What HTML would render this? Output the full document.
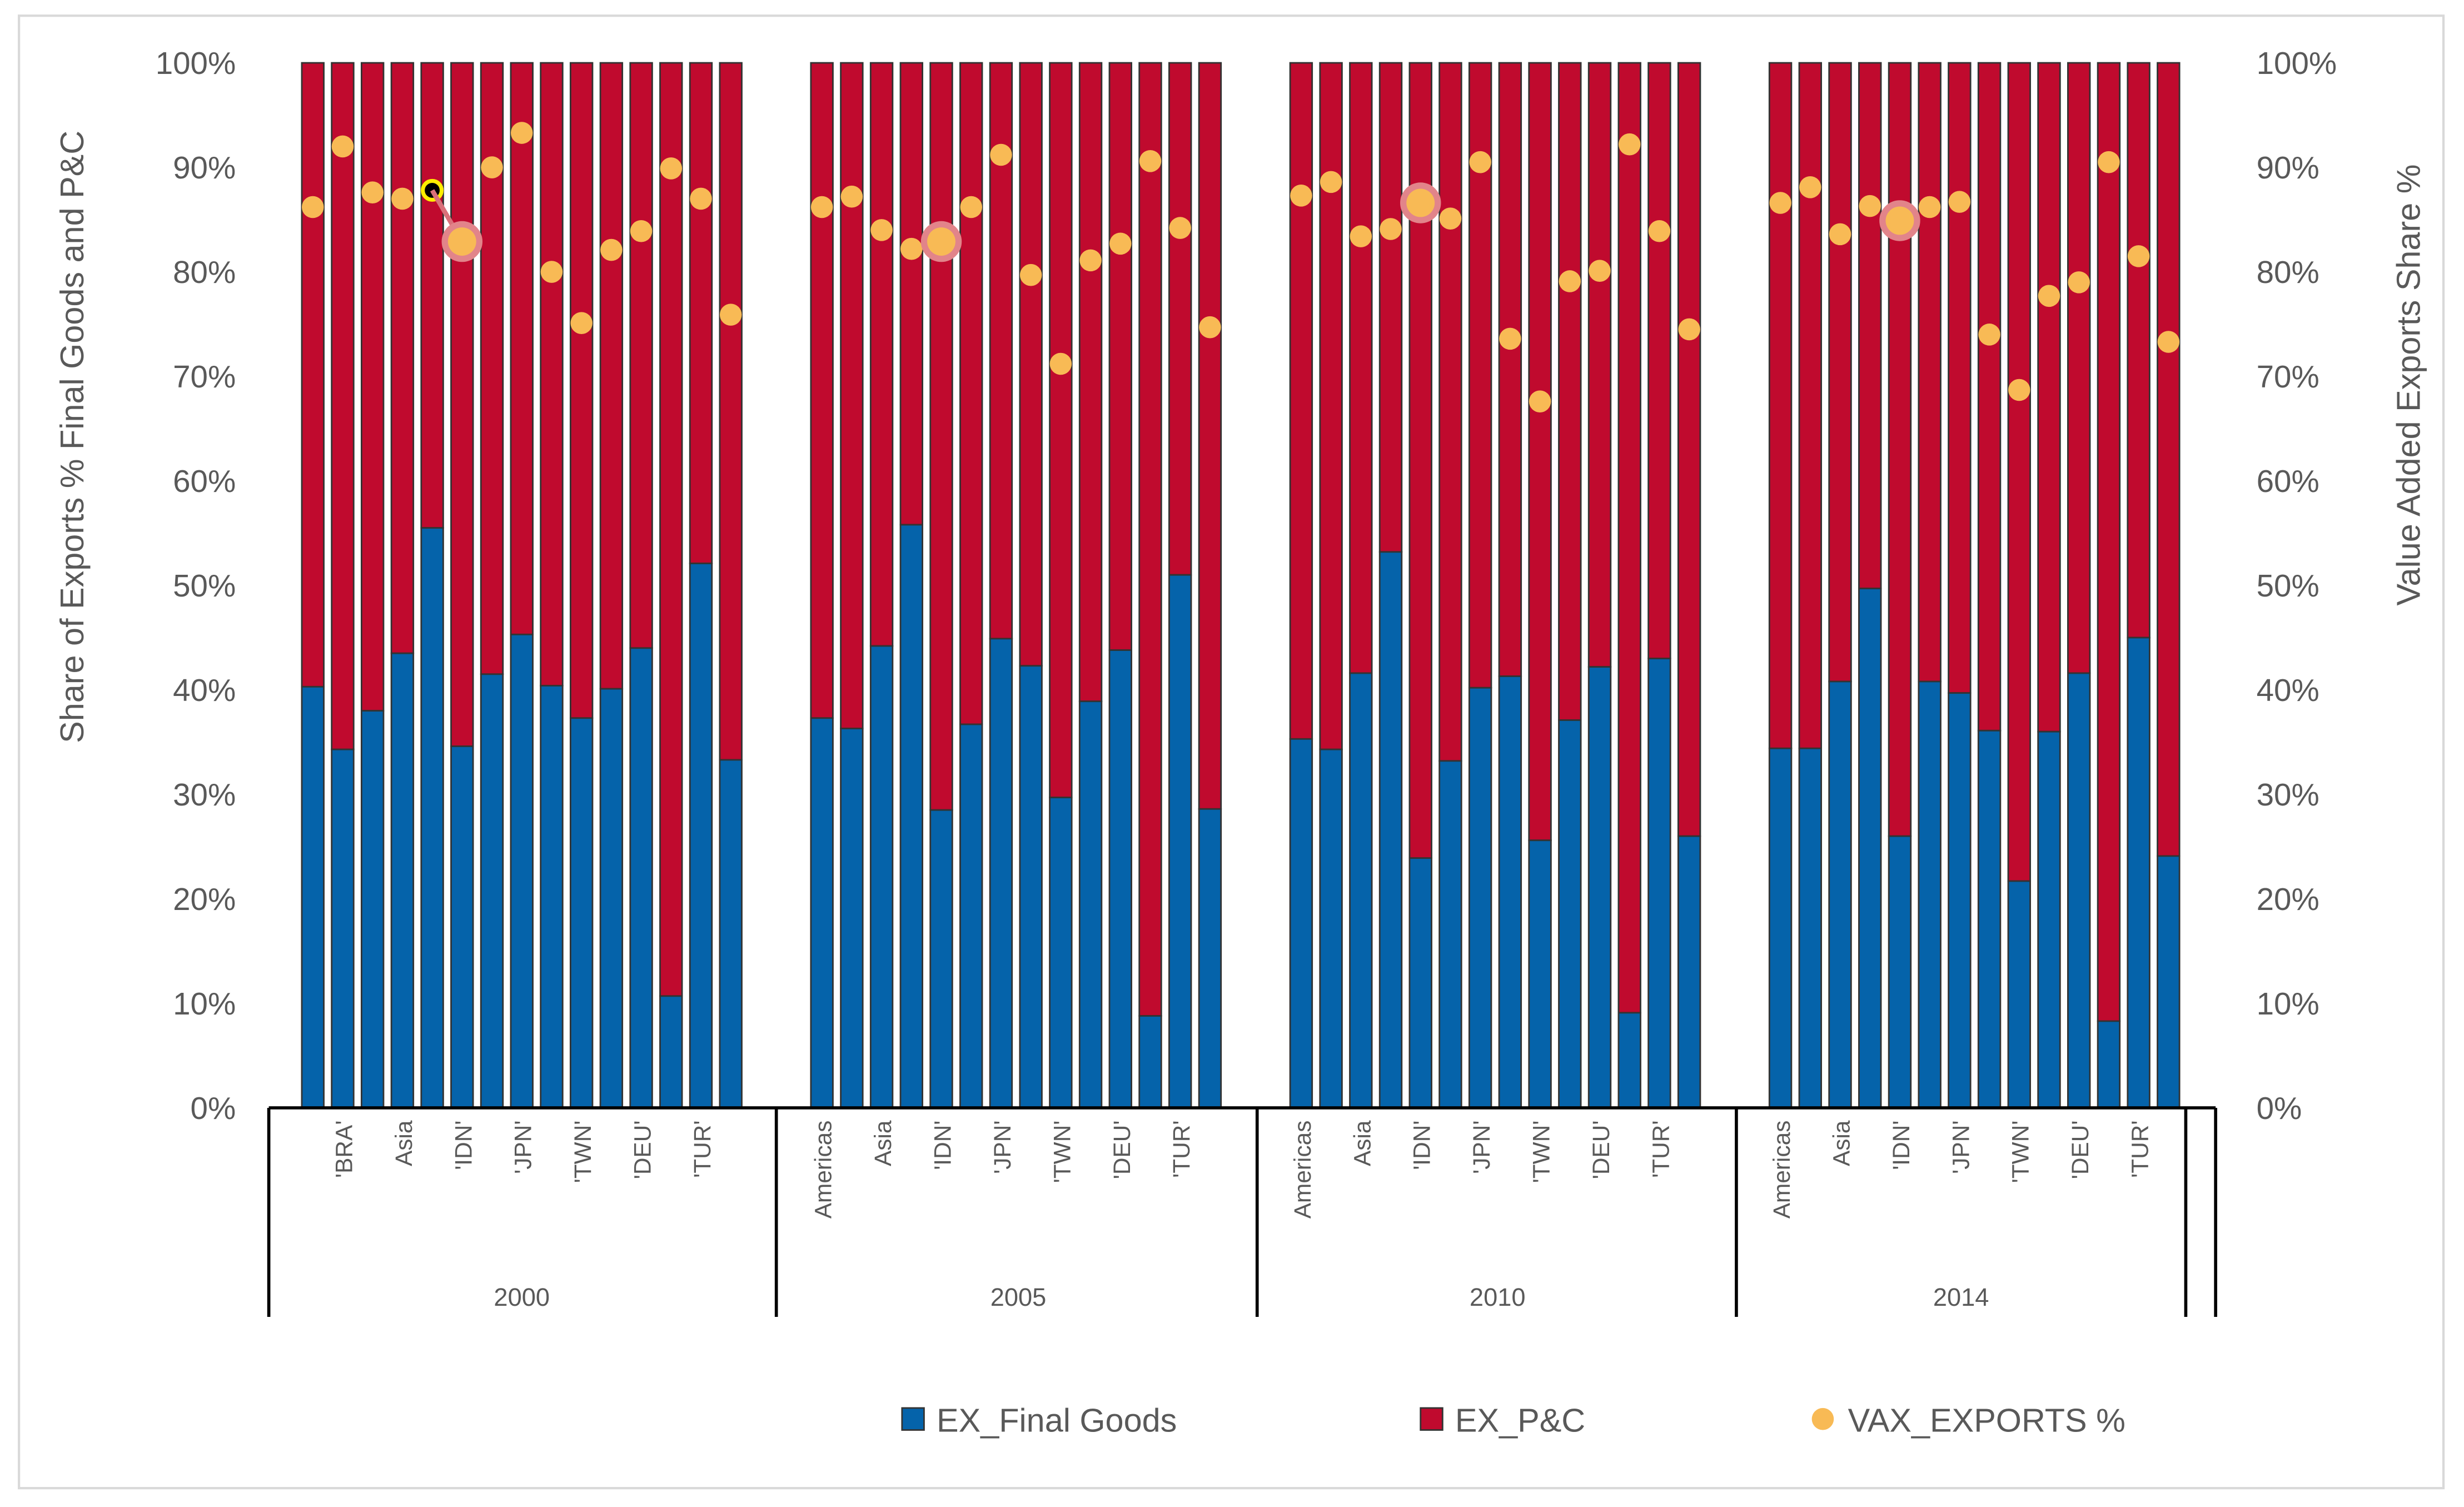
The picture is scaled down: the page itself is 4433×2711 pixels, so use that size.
<!DOCTYPE html>
<html><head><meta charset="utf-8"><style>html,body{margin:0;padding:0;background:#fff}svg{display:block}text{font-family:"Liberation Sans",sans-serif;fill:#595959}</style></head>
<body>
<svg id="chart" width="4433" height="2711" viewBox="0 0 1568 959" xmlns="http://www.w3.org/2000/svg">
<rect x="12" y="10" width="1543" height="937" fill="#fff" stroke="#d9d9d9" stroke-width="1.5"/>
<g id="grid"></g>
<g id="bars"></g>
<g id="dots"></g>
<g id="axes"></g>
<text transform="translate(53,278) rotate(-90)" text-anchor="middle" font-size="21">Share of Exports % Final Goods and P&amp;C</text>
<text transform="translate(1540,245) rotate(-90)" text-anchor="middle" font-size="21">Value Added Exports Share %</text>
<g>
<rect x="574" y="896" width="14" height="14" fill="#0563AA" stroke="#333" stroke-width="1"/>
<text x="596" y="911" font-size="21">EX_Final Goods</text>
<rect x="904" y="896" width="14" height="14" fill="#C00A2E" stroke="#333" stroke-width="1"/>
<text x="926" y="911" font-size="21">EX_P&amp;C</text>
<circle cx="1160" cy="903" r="7" fill="#F8BA55"/>
<text x="1176" y="911" font-size="21">VAX_EXPORTS %</text>
</g>
</svg>
<script>
const years = ["2000","2005","2010","2014"];
const finalGoods2000 = [40.3,34.3,38,43.5,55.5,34.6,41.5,45.3,40.4,37.3,40.1,44,10.7,52.1,33.3];
const finalGoods2005 = [37.3,36.3,44.2,55.8,28.5,36.7,44.9,42.3,29.7,38.9,43.8,8.8,51,28.6];
const finalGoods2010 = [35.3,34.3,41.6,53.2,23.9,33.2,40.2,41.3,25.6,37.1,42.2,9.1,43,26];
const finalGoods2014 = [34.4,34.4,40.8,49.7,26,40.8,39.7,36.1,21.7,36,41.6,8.3,45,24.1];
const vax2000 = [86.2,92,87.6,87,87.8,82.9,90,93.3,80,75.1,82.1,83.9,89.9,87,75.9];
const vax2005 = [86.2,87.2,84,82.2,82.9,86.2,91.2,79.7,71.2,81.1,82.7,90.6,84.2,74.7];
const vax2010 = [87.3,88.6,83.4,84.1,86.6,85.1,90.5,73.6,67.6,79.1,80.1,92.2,83.9,74.5];
const vax2014 = [86.6,88.1,83.6,86.3,84.9,86.2,86.7,74,68.7,77.7,79,90.5,81.5,73.3];
const highlighted = [5,4,4,4];
const labels2000 = ["","'BRA'","","Asia","","'IDN'","","'JPN'","","'TWN'","","'DEU'","","'TUR'",""];
const labelsOther = ["Americas","","Asia","","'IDN'","","'JPN'","","'TWN'","","'DEU'","","'TUR'",""];
const ticks = [0,10,20,30,40,50,60,70,80,90,100];

const NS="http://www.w3.org/2000/svg";
function mk(tag,attrs,parent){const e=document.createElementNS(NS,tag);for(const k in attrs)e.setAttribute(k,attrs[k]);parent.appendChild(e);return e;}
const y0=705,y1=40;
function yS(v){return y0-(y0-y1)*v/100;}
const groupStart=[199,523,828,1133];
const step=19, bw=14;
function xS(g,i){return groupStart[g]+i*step;}
const FG=[finalGoods2000,finalGoods2005,finalGoods2010,finalGoods2014];
const VX=[vax2000,vax2005,vax2010,vax2014];
const bars=document.getElementById('bars'),dots=document.getElementById('dots'),axes=document.getElementById('axes');

ticks.forEach(t=>{
  const l=mk('text',{x:150,y:yS(t)+7,'text-anchor':'end','font-size':20},axes);l.textContent=t+'%';
  
  
  const r=mk('text',{x:1436,y:yS(t)+7,'text-anchor':'start','font-size':20},axes);r.textContent=t+'%';
  
  
});

FG.forEach((arr,g)=>{
  arr.forEach((v,i)=>{
    const x=xS(g,i)-bw/2;
    const red=mk('rect',{x:x,y:yS(100),width:bw,height:yS(v)-yS(100),fill:'#C00A2E',stroke:'#333','stroke-width':1},bars);
    
    
    const b=mk('rect',{x:x,y:yS(v),width:bw,height:yS(0)-yS(v),fill:'#0563AA',stroke:'#333','stroke-width':1},bars);
    
    
    const lab=(g===0?labels2000:labelsOther)[i];
    if(lab){
      const t=mk('text',{transform:'translate('+(xS(g,i)+6)+',713) rotate(-90)','text-anchor':'end','font-size':15},axes);
      t.textContent=lab;
      
      
    }
  });
});
VX.forEach((arr,g)=>{
  arr.forEach((v,i)=>{
    const cx=xS(g,i),cy=yS(v);
    if(i===highlighted[g]){
      if(g===0){
        const pv=arr[4];
        const ln=mk('line',{x1:xS(0,4),y1:yS(pv),x2:cx,y2:cy,stroke:'#d9707a','stroke-width':3},dots);
        
        
      }
      const h=mk('circle',{cx:cx,cy:cy,r:13,fill:'#e2848a'},dots);
      
      
      const c=mk('circle',{cx:cx,cy:cy,r:9,fill:'#F8BA55'},dots);
      
      
    } else if(g===0&&i===4){
      const c=mk('circle',{cx:cx,cy:cy,r:6,fill:'#000',stroke:'#ffee00','stroke-width':2.5},dots);
      
      
    } else {
      const c=mk('circle',{cx:cx,cy:cy,r:7,fill:'#F8BA55'},dots);
      
      
    }
  });
});
const ax=mk('line',{x1:171,y1:y0,x2:1410,y2:y0,stroke:'#000','stroke-width':2},axes);


[171,494,800,1105,1391,1410].forEach((x,k)=>{
  const l=mk('line',{x1:x,y1:y0,x2:x,y2:838,stroke:'#000','stroke-width':2},axes);
  
  
});
const yc=[332,648,953,1248];
years.forEach((yr,g)=>{
  const t=mk('text',{x:yc[g],y:831,'text-anchor':'middle','font-size':16},axes);t.textContent=yr;
  
  
});
</script>
</body></html>
